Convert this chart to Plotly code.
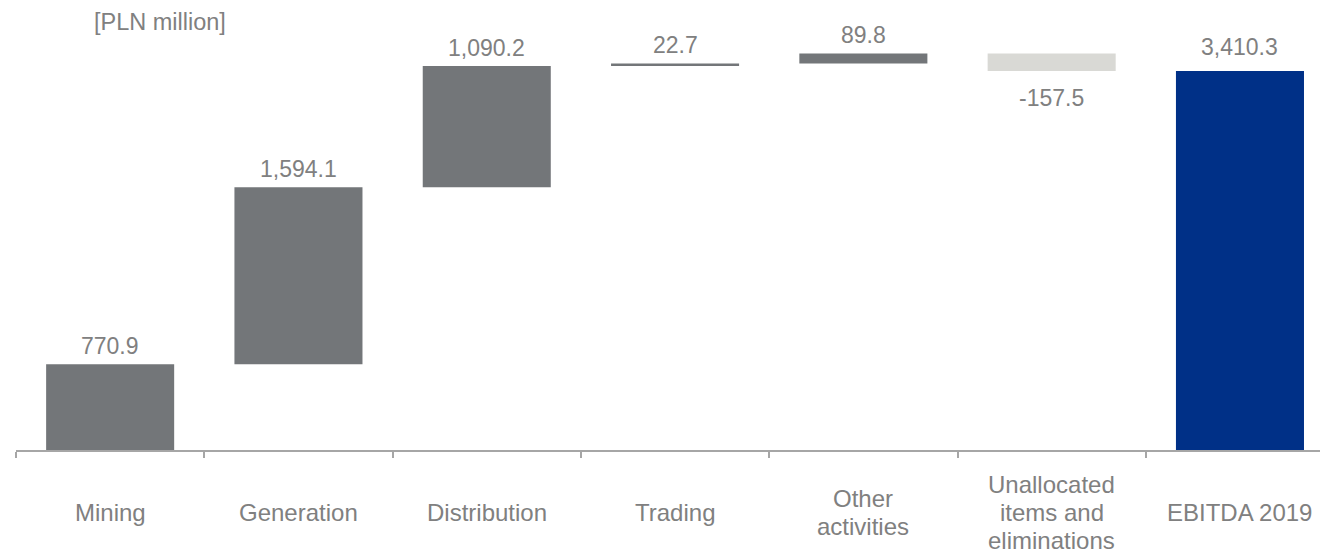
import numpy as np
import plotly.graph_objects as go

# EBITDA bridge by segment, PLN million
categories = ["Mining", "Generation", "Distribution", "Trading",
              "Other activities", "Unallocated items and eliminations", "EBITDA 2019"]
axis_labels = ["Mining", "Generation", "Distribution", "Trading",
               "Other<br>activities", "Unallocated<br>items and<br>eliminations", "EBITDA 2019"]
values = [770.9, 1594.1, 1090.2, 22.7, 89.8, -157.5, 3410.3]
measures = ["relative", "relative", "relative", "relative", "relative", "relative", "total"]

GREY = "#737679"
LIGHT = "#d9d9d5"
NAVY = "#003087"
TEXT = "#808080"
FONT = "Arial, Liberation Sans, sans-serif"

fig = go.Figure(go.Waterfall(
    x=categories,
    y=values,
    measure=measures,
    base=0,
    increasing=dict(marker=dict(color=GREY)),
    decreasing=dict(marker=dict(color=LIGHT)),
    totals=dict(marker=dict(color=NAVY)),
    connector=dict(visible=False),
    hoverinfo="skip",
))

# value labels placed at the end of each step
running = np.cumsum(values[:-1])
ends = list(running) + [values[-1]]
for cat, val, end, m in zip(categories, values, ends, measures):
    if m == "total":
        fig.add_annotation(x=cat, y=end, text=f"{val:,.1f}", showarrow=False,
                           yanchor="bottom", yshift=9)
    elif val < 0:
        fig.add_annotation(x=cat, y=end, text=f"{val:,.1f}", showarrow=False,
                           yanchor="top", yshift=-12)
    else:
        fig.add_annotation(x=cat, y=end, text=f"{val:,.1f}", showarrow=False,
                           yanchor="bottom", yshift=3)

# category labels, each block vertically centred below the axis
LINE = 28
for cat, lab in zip(categories, axis_labels):
    lines = lab.split("<br>")
    n = len(lines)
    for i, line in enumerate(lines):
        fig.add_annotation(x=cat, y=-0.138, xref="x", yref="paper", text=line,
                           showarrow=False, yanchor="middle", xanchor="center",
                           yshift=-(i - (n - 1) / 2) * LINE,
                           font=dict(size=24))

fig.add_annotation(x=0.1104, y=0.951, xref="paper", yref="paper",
                   text="[PLN million]", showarrow=False,
                   xanchor="center", yanchor="middle", font=dict(size=23.5))

fig.update_layout(
    width=1320, height=549,
    margin=dict(l=16, r=0, t=0, b=99),
    paper_bgcolor="white", plot_bgcolor="white",
    font=dict(family=FONT, size=23, color=TEXT),
    waterfallgap=0.32,
    showlegend=False,
    xaxis=dict(
        type="category",
        range=[-0.5, 6.425],
        showline=True, linecolor="#a6a6a6", linewidth=1.5,
        ticks="outside", tickson="boundaries", ticklen=6,
        tickcolor="#a6a6a6", tickwidth=1.5,
        showticklabels=False, showgrid=False, zeroline=False,
    ),
    yaxis=dict(
        range=[0, 4049], visible=False, showgrid=False, zeroline=False,
    ),
)

fig.write_html("out.html")
